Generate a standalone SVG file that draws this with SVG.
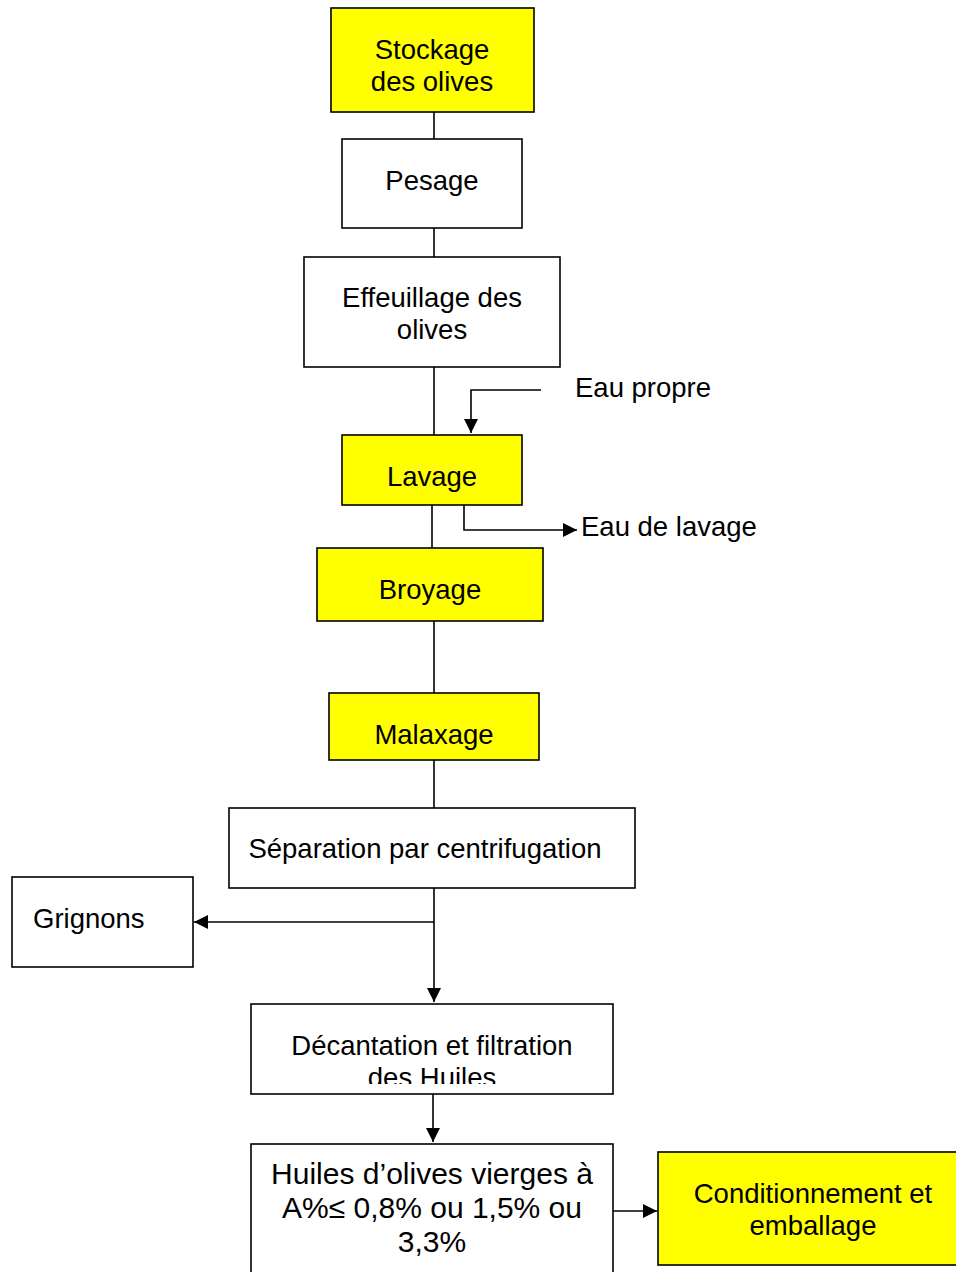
<svg xmlns="http://www.w3.org/2000/svg" width="956" height="1272" viewBox="0 0 956 1272">
<style>
.box{fill:#fff;stroke:#000;stroke-width:1.6}
.y{fill:#ffff00}
.t{font-family:"Liberation Sans",Arial,sans-serif;font-size:27.5px;fill:#000;text-anchor:middle}
.h{font-size:30px}
.l{text-anchor:start}
.c{fill:none;stroke:#000;stroke-width:1.6}
</style>
<defs>
<marker id="ah2" viewBox="0 0 14 14" refX="14" refY="7" markerWidth="14" markerHeight="14" markerUnits="userSpaceOnUse" orient="auto"><path d="M0,0 L14,7 L0,14 Z" fill="#000"/></marker>
<clipPath id="clipD"><rect x="251" y="1004" width="362" height="80"/></clipPath>
</defs>
<g id="connectors">
<path class="c" d="M434,112 V139"/>
<path class="c" d="M434,228 V257"/>
<path class="c" d="M434,367 V435"/>
<path class="c" d="M541,390 H471 V433" marker-end="url(#ah2)"/>
<path class="c" d="M432,505 V548"/>
<path class="c" d="M464,505 V530 H577" marker-end="url(#ah2)"/>
<path class="c" d="M434,621 V693"/>
<path class="c" d="M434,760 V808"/>
<path class="c" d="M434,888 V1002" marker-end="url(#ah2)"/>
<path class="c" d="M434,922 H194" marker-end="url(#ah2)"/>
<path class="c" d="M433,1094 V1142" marker-end="url(#ah2)"/>
<path class="c" d="M613,1211 H657" marker-end="url(#ah2)"/>
</g>
<g id="stockage"><rect class="box y" x="331" y="8" width="203" height="104"/><text class="t" x="432" y="59">Stockage</text><text class="t" x="432" y="91">des olives</text></g>
<g id="pesage"><rect class="box" x="342" y="139" width="180" height="89"/><text class="t" x="432" y="190">Pesage</text></g>
<g id="effeuillage"><rect class="box" x="304" y="257" width="256" height="110"/><text class="t" x="432" y="307">Effeuillage des</text><text class="t" x="432" y="339">olives</text></g>
<g id="eau-propre"><text class="t l" x="575" y="397">Eau propre</text></g>
<g id="lavage"><rect class="box y" x="342" y="435" width="180" height="70"/><text class="t" x="432" y="486">Lavage</text></g>
<g id="eau-lavage"><text class="t l" x="581" y="536">Eau de lavage</text></g>
<g id="broyage"><rect class="box y" x="317" y="548" width="226" height="73"/><text class="t" x="430" y="599">Broyage</text></g>
<g id="malaxage"><rect class="box y" x="329" y="693" width="210" height="67"/><text class="t" x="434" y="744">Malaxage</text></g>
<g id="separation"><rect class="box" x="229" y="808" width="406" height="80"/><text class="t" x="425" y="858">Séparation par centrifugation</text></g>
<g id="grignons"><rect class="box" x="12" y="877" width="181" height="90"/><text class="t l" x="33" y="928">Grignons</text></g>
<g id="decantation"><rect class="box" x="251" y="1004" width="362" height="90"/><g clip-path="url(#clipD)"><text class="t" x="432" y="1055">Décantation et filtration</text><text class="t" x="432" y="1087">des Huiles</text></g></g>
<g id="huiles"><rect class="box" x="251" y="1144" width="362" height="140"/><text class="t h" x="432" y="1184">Huiles d’olives vierges à</text><text class="t h" x="432" y="1218">A%≤ 0,8% ou 1,5% ou</text><text class="t h" x="432" y="1252">3,3%</text></g>
<g id="conditionnement"><rect class="box y" x="658" y="1152" width="300" height="113"/><text class="t" x="813" y="1203">Conditionnement et</text><text class="t" x="813" y="1235">emballage</text></g>
</svg>
